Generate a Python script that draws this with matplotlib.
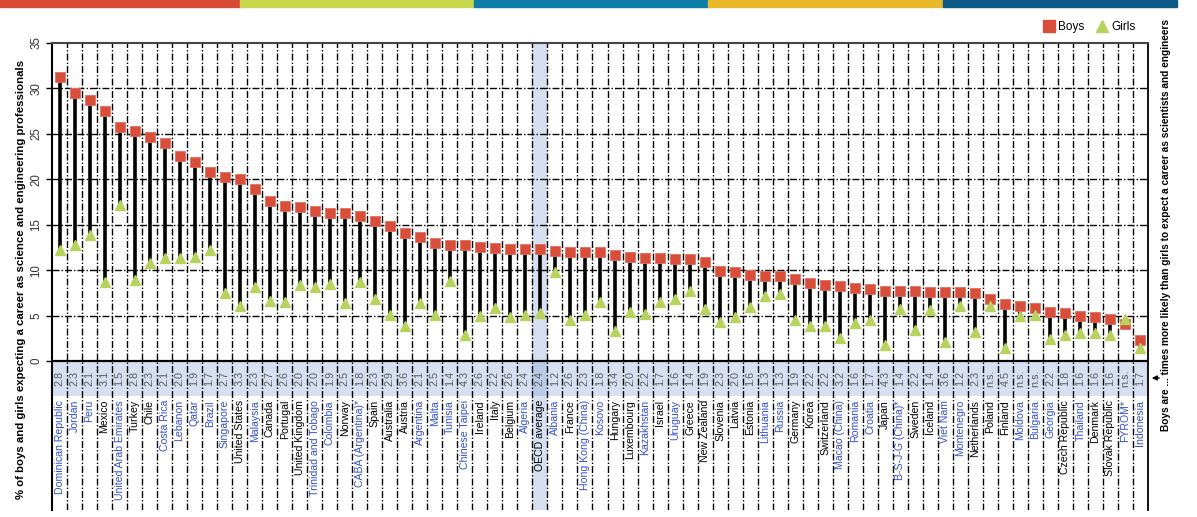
import matplotlib
matplotlib.use("Agg")
import matplotlib.pyplot as plt
from matplotlib.patches import Rectangle, FancyArrowPatch
from matplotlib.lines import Line2D

plt.rcParams['font.family'] = ['Liberation Sans', 'DejaVu Sans']

countries = [
    "Dominican Republic", "Jordan", "Peru", "Mexico", "United Arab Emirates", "Turkey",
    "Chile", "Costa Rica", "Lebanon", "Qatar", "Brazil", "Singapore", "United States",
    "Malaysia", "Canada", "Portugal", "United Kingdom", "Trinidad and Tobago", "Colombia",
    "Norway", "CABA (Argentina)*", "Spain", "Australia", "Austria", "Argentina", "Malta",
    "Tunisia", "Chinese Taipei", "Ireland", "Italy", "Belgium", "Algeria", "OECD average",
    "Albania", "France", "Hong Kong (China)", "Kosovo", "Hungary", "Luxembourg",
    "Kazakhstan", "Israel", "Uruguay", "Greece", "New Zealand", "Slovenia", "Latvia",
    "Estonia", "Lithuania", "Russia", "Germany", "Korea", "Switzerland", "Macao (China)",
    "Romania", "Croatia", "Japan", "B-S-J-G (China)*", "Sweden", "Iceland", "Viet Nam",
    "Montenegro", "Netherlands", "Poland", "Finland", "Moldova", "Bulgaria", "Georgia",
    "Czech Republic", "Thailand", "Denmark", "Slovak Republic", "FYROM*", "Indonesia",
]

boys = [
    31.3, 29.5, 28.7, 27.5, 25.8, 25.3, 24.7, 24.0, 22.6, 21.9, 20.8, 20.3, 20.0,
    18.9, 17.6, 17.1, 17.0, 16.5, 16.3, 16.3, 16.0, 15.4, 14.9, 14.1, 13.7, 13.0,
    12.8, 12.8, 12.6, 12.4, 12.3, 12.3, 12.3, 12.1, 12.0, 12.0, 12.0, 11.7, 11.5,
    11.3, 11.3, 11.2, 11.2, 10.9, 9.9, 9.8, 9.5, 9.4, 9.4, 9.0, 8.55, 8.4, 8.25,
    8.0, 7.9, 7.75, 7.75, 7.75, 7.6, 7.6, 7.6, 7.45, 6.8, 6.3, 6.0, 5.8, 5.4,
    5.25, 5.0, 4.8, 4.6, 4.1, 2.3,
]

girls = [
    12.2, 12.8, 13.9, 8.7, 17.2, 8.9, 10.75, 11.3, 11.3, 11.4, 12.2, 7.45, 6.05,
    8.1, 6.6, 6.45, 8.4, 8.1, 8.5, 6.35, 8.7, 6.8, 5.1, 3.85, 6.35, 5.1,
    8.8, 2.9, 4.9, 5.8, 4.8, 5.1, 5.25, 9.8, 4.5, 5.1, 6.5, 3.3, 5.4,
    5.2, 6.5, 6.8, 7.7, 5.7, 4.25, 4.8, 5.9, 7.15, 7.4, 4.5, 3.8, 3.9, 2.55,
    4.2, 4.5, 1.8, 5.7, 3.4, 5.6, 2.05, 6.05, 3.15, 6.05, 1.4, 4.95, 5.1, 2.4,
    2.9, 3.1, 3.1, 2.9, 4.6, 1.4,
]

ratio_labels = [
    "2.8", "2.3", "2.1", "3.1", "1.5", "2.8", "2.3", "2.1", "2.0", "1.9", "1.7", "2.7", "3.3",
    "2.3", "2.7", "2.6", "2.0", "2.0", "1.9", "2.5", "1.8", "2.3", "2.9", "3.6", "2.1", "2.5",
    "1.4", "4.3", "2.6", "2.2", "2.6", "2.4", "2.4", "1.2", "2.6", "2.3", "1.8", "3.4", "2.0",
    "2.2", "1.7", "1.6", "1.4", "1.9", "2.3", "2.0", "1.6", "1.3", "1.3", "1.9", "2.2", "2.2",
    "3.2", "1.6", "1.7", "4.3", "1.4", "2.2", "1.4", "3.6", "1.2", "2.3", "n.s.", "4.5", "n.s.",
    "n.s.", "2.2", "1.8", "1.6", "1.6", "1.6", "n.s.", "1.7",
]

oecd_members = {
    "Mexico", "Turkey", "Chile", "United States", "Canada", "Portugal", "United Kingdom",
    "Norway", "Spain", "Australia", "Austria", "Ireland", "Italy", "Belgium", "OECD average",
    "France", "Hungary", "Luxembourg", "Israel", "Greece", "New Zealand", "Slovenia",
    "Latvia", "Estonia", "Germany", "Korea", "Switzerland", "Japan", "Sweden", "Iceland",
    "Netherlands", "Poland", "Finland", "Czech Republic", "Denmark", "Slovak Republic",
}

y_ticks = [0, 5, 10, 15, 20, 25, 30, 35]

BOY_RED = "#d84e3b"
GIRL_GREEN = "#b7d35e"
PARTNER_BLUE = "#3550d0"
BAND = "#d6e0f1"
BAND_DARK = "#b9c9e6"

W, H = 1197, 517
fig = plt.figure(figsize=(W / 100, H / 100), dpi=100)

# Coloured strip along the top edge
strip = [("#d84a36", 0, 240), ("#c7d74c", 240, 474), ("#0f7ea6", 474, 708),
         ("#e7b92b", 708, 943), ("#0c5b86", 943, 1177)]
for col, x0, x1 in strip:
    fig.patches.append(Rectangle((x0 / W, 1 - 7 / H), (x1 - x0) / W, 7 / H,
                                 transform=fig.transFigure, color=col, zorder=0))

ax = fig.add_axes([52 / W, 7 / H, (1148 - 52) / W, (510 - 43) / H])
n = len(countries)
xs = list(range(n))
y_bottom = -16.4
band_low = -3.85
ax.set_xlim(-0.5, n - 0.5)
ax.set_ylim(y_bottom, 35)

oecd_idx = countries.index("OECD average")
ax.axvspan(oecd_idx - 0.5, oecd_idx + 0.5, color=BAND, zorder=0, lw=0)
ax.axhspan(band_low, 0, color=BAND, zorder=0, lw=0)
ax.add_patch(Rectangle((oecd_idx - 0.5, band_low), 1, -band_low, color=BAND_DARK, lw=0, zorder=0.5))

grid_ls = (0, (5, 1.5, 1, 1.5))
for v in y_ticks[1:-1]:
    ax.plot([-0.5, n - 0.5], [v, v], color="black", lw=1.0, ls=grid_ls, zorder=1)
for k in range(n - 1):
    ax.plot([k + 0.5, k + 0.5], [y_bottom, 35], color="black", lw=1.0, ls=grid_ls, zorder=1)
ax.plot([-0.5, n - 0.5], [0, 0], color="black", lw=1.6, zorder=2)

ax.vlines(xs, girls, boys, color="black", lw=2.6, zorder=3)
ax.plot(xs, boys, ls="none", marker="s", ms=7.5, color=BOY_RED, mec="#e0705f", mew=0.6, zorder=4)
ax.plot(xs, girls, ls="none", marker="^", ms=7, color=GIRL_GREEN, mec=GIRL_GREEN, zorder=5)

for i, (name, r) in enumerate(zip(countries, ratio_labels)):
    ax.text(i, band_low / 2, r, rotation=90, ha="center", va="center",
            fontsize=7.8, color="#5a5a5a", zorder=6)
    col = "black" if name in oecd_members else PARTNER_BLUE
    ax.text(i, -4.3, name, rotation=90, ha="center", va="top",
            fontsize=7.6, color=col, zorder=6)

ax.set_xticks([])
ax.set_yticks(y_ticks)
ax.set_yticklabels([str(t) for t in y_ticks], rotation=90, va="center",
                   fontsize=8.3, color="#333333")
ax.tick_params(axis="y", length=4, width=1, direction="out", pad=3)
ax.spines["bottom"].set_visible(False)
ax.spines["left"].set_linewidth(1.5)
ax.spines["right"].set_linewidth(1.3)
ax.spines["top"].set_linewidth(1.5)
ax.spines["top"].set_color("#444444")

fig.text(21 / W, 1 - 279 / H,
         "% of boys and girls expecting a career as science and engineering professionals",
         rotation=90, ha="center", va="center", fontsize=8.2, fontweight="bold")

fig.text(1166 / W, 1 - 431 / H,
         "Boys are ... times more likely than girls to expect a career as scientists and engineers",
         rotation=90, ha="center", va="bottom", fontsize=7.3, fontweight="bold")
fig.add_artist(FancyArrowPatch(
    (1162 / W, 1 - 378 / H), (1149 / W, 1 - 378 / H), transform=fig.transFigure,
    arrowstyle="-|>", mutation_scale=7, lw=1, color="black"))

handles = [Line2D([], [], ls="none", marker="s", ms=8, color=BOY_RED),
           Line2D([], [], ls="none", marker="^", ms=8, color=GIRL_GREEN)]
fig.legend(handles, ["Boys", "Girls"], loc="center", bbox_to_anchor=(1089 / W, 1 - 27 / H),
           ncol=2, frameon=False, fontsize=8.5, handletextpad=0.2, columnspacing=0.9,
           handlelength=1.2)

fig.savefig("out.png", dpi=100)
